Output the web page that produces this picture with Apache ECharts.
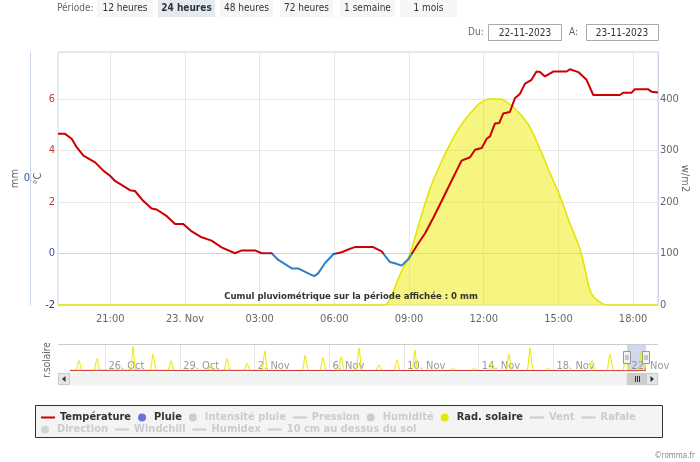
<!DOCTYPE html>
<html><head><meta charset="utf-8">
<script src="https://cdn.jsdelivr.net/npm/echarts@6/dist/echarts.min.js"></script>
<style>html,body{margin:0;padding:0;background:#fff}#c{width:700px;height:462px}</style>
</head><body><div id="c"></div>
<script>
const FONT = '"DejaVu Sans Condensed","Liberation Sans",sans-serif';

// ---------- data ----------
const periodButtons = ['12 heures','24 heures','48 heures','72 heures','1 semaine','1 mois'];
const activePeriod = '24 heures';
const dateFrom = '22-11-2023';
const dateTo = '23-11-2023';
const cumulText = 'Cumul pluviométrique sur la période affichée : 0 mm';

// hours counted from 22 Nov 2023 00:00
const xMinHour = 18.9;
const xMaxHour = 43.0;
const xTickHours = [21, 24, 27, 30, 33, 36, 39, 42];
const xTickLabels = ['21:00', '23. Nov', '03:00', '06:00', '09:00', '12:00', '15:00', '18:00'];

const tempTicks = [-2, 0, 2, 4, 6];
const tempMin = -2, tempMax = 7.83;
const solarTicks = [0, 100, 200, 300, 400];

const tempHours = [18.90,19.18,19.45,19.65,19.92,20.39,20.72,20.99,21.19,21.79,21.99,22.33,22.66,22.86,23.27,23.60,23.93,24.27,24.67,25.07,25.47,26.01,26.28,26.81,27.08,27.48,27.75,28.29,28.55,28.95,29.19,29.35,29.62,29.96,30.29,30.70,30.83,31.56,31.90,32.23,32.43,32.70,32.99,33.31,33.64,33.97,34.31,34.64,34.91,35.11,35.45,35.65,35.92,36.12,36.25,36.45,36.62,36.78,37.05,37.25,37.45,37.66,37.92,38.12,38.26,38.46,38.79,39.33,39.46,39.80,40.13,40.40,41.47,41.61,41.94,42.07,42.61,42.74,43.00];
const tempValues = [4.65,4.65,4.46,4.13,3.80,3.54,3.22,3.02,2.82,2.46,2.43,2.04,1.75,1.71,1.45,1.15,1.15,0.86,0.63,0.50,0.24,0.01,0.12,0.12,0.01,0.01,-0.25,-0.58,-0.58,-0.77,-0.88,-0.77,-0.38,-0.03,0.05,0.21,0.25,0.25,0.08,-0.33,-0.38,-0.47,-0.20,0.30,0.78,1.38,2.04,2.69,3.22,3.61,3.74,4.03,4.10,4.46,4.55,5.05,5.07,5.44,5.50,6.03,6.20,6.60,6.75,7.07,7.05,6.88,7.07,7.07,7.16,7.05,6.75,6.16,6.16,6.25,6.25,6.38,6.38,6.29,6.26];

const solarHours = [18.9,32.03,32.31,32.63,33.04,33.44,33.84,34.24,34.64,35.04,35.45,35.85,36.25,36.65,37.05,37.45,37.86,38.26,38.66,39.06,39.46,39.86,40.06,40.19,40.35,40.59,40.95,43.0];
const solarValues = [0,0,20,58,100,165,226,272,312,346,372,392,400,400,390,372,345,303,257,212,159,110,72,42,20,8,0,0];

// navigator (days counted from its own 22 Nov 00:00 tick)
const navMinDay = -29.89, navMaxDay = 0.96;
const navTickDays = [-28, -24, -20, -16, -12, -8, -4, 0];
const navTickLabels = ['26. Oct', '29. Oct', '2. Nov', '6. Nov', '10. Nov', '14. Nov', '18. Nov', '22. Nov'];
const navPeakDays = [-29.41,-28.44,-26.52,-25.44,-24.48,-22.34,-21.48,-20.41,-19.45,-17.30,-16.34,-15.37,-14.41,-13.34,-12.37,-11.41,-9.38,-8.25,-7.29,-6.38,-5.25,-4.29,-1.93,-0.97,-0.11,0.72];
const navPeakValues = [205,246,477,339,205,123,246,154,400,308,267,282,451,123,215,410,62,62,169,339,451,62,205,339,308,400];
const navTempDays = [-29.89,-27,-24,-21,-18,-15,-12,-9,-6,-3,0,0.96];
const navTempValues = [12,14,11,13,10,12,9,11,10,8,6,7];

const legendRow1 = ['Température','Pluie','Intensité pluie','Pression','Humidité','Rad. solaire','Vent','Rafale'];
const legendRow2 = ['Direction','Windchill','Humidex','10 cm au dessus du sol'];
const legendActive = ['Température','Pluie','Rad. solaire'];
const legendDotNames = ['Pluie','Intensité pluie','Humidité','Rad. solaire'];

// ---------- styles ----------
const RED = '#cc0000', BLUE = '#2f7fc8', YEL = '#e3e300';
const AXIS = '#ccd6eb', GRIDC = '#e6e6e6', LBL = '#666';
const lineIcon = 'path://M0,0 L14,0 L14,2 L0,2 Z';
const dotIcon = 'path://M0,0 m-2,0 a2,2 0 1,0 4,0 a2,2 0 1,0 -4,0';
const legendColors = {'Température': RED, 'Pluie': '#6f6fe0', 'Rad. solaire': '#e8e800'};

function legendItem(n) {
  let icon = legendDotNames.includes(n) ? 'circle' : (n === 'Direction' ? dotIcon : lineIcon);
  const it = {name: n, icon: icon};
  if (legendColors[n]) it.itemStyle = {color: legendColors[n], borderWidth: 0};
  return it;
}
const selected = {};
legendRow1.concat(legendRow2).forEach(n => selected[n] = legendActive.includes(n));

function legendCfg(names, top) {
  return {
    left: 41, top: top, orient: 'horizontal', itemGap: 7, itemWidth: 14, itemHeight: 8,
    padding: 0, inactiveColor: '#cccccc', selectedMode: true,
    textStyle: {fontFamily: FONT, fontSize: 11, fontWeight: 'bold', color: '#333'},
    data: names.map(legendItem), selected: selected
  };
}

const tempData = tempHours.map((h, i) => [h, tempValues[i]]);
const solarData = solarHours.map((h, i) => [h, solarValues[i]]);
const navSolar = [[navMinDay, 0]];
navPeakDays.forEach((d, i) => { navSolar.push([d - 0.2, 0], [d, navPeakValues[i]], [d + 0.2, 0]); });
navSolar.push([navMaxDay, 0]);
const navTemp = navTempDays.map((d, i) => [d, navTempValues[i]]);
const solarMax = (tempMax - tempMin) * 50;
const spanDays = (xMaxHour - xMinHour) / 24;
const navWindow = [navMaxDay - spanDays, navMaxDay];

const dummy = (name, type) => ({name: name, type: type || 'line', data: [], xAxisIndex: 0, yAxisIndex: 0});

// ---------- graphics (page controls) ----------
const graphics = [];
graphics.push({type: 'text', left: 57, top: 3, style: {text: 'Période:', fill: '#666', font: '10px ' + FONT}});
const btnX = [97, 158, 220, 280, 340, 400], btnW = [56, 57, 53, 53, 55, 57];
periodButtons.forEach((b, i) => {
  const act = b === activePeriod;
  graphics.push({type: 'rect', shape: {x: btnX[i], y: 0, width: btnW[i], height: 17},
    style: {fill: act ? '#e4eaf3' : '#f6f6f6'}});
  graphics.push({type: 'text', x: btnX[i] + btnW[i] / 2, y: 8,
    style: {text: b, fill: '#333', font: (act ? 'bold ' : '') + '10px ' + FONT, align: 'center', verticalAlign: 'middle'}});
});
graphics.push({type: 'text', x: 468, y: 32, style: {text: 'Du:', fill: '#666', font: '10px ' + FONT, verticalAlign: 'middle'}});
graphics.push({type: 'rect', shape: {x: 488.5, y: 24.5, width: 73, height: 16}, style: {fill: '#fff', stroke: '#a9a9a9', lineWidth: 1}});
graphics.push({type: 'text', x: 525, y: 33, style: {text: dateFrom, fill: '#333', font: '10px ' + FONT, align: 'center', verticalAlign: 'middle'}});
graphics.push({type: 'text', x: 569, y: 32, style: {text: 'A:', fill: '#666', font: '10px ' + FONT, verticalAlign: 'middle'}});
graphics.push({type: 'rect', shape: {x: 586.5, y: 24.5, width: 72, height: 16}, style: {fill: '#fff', stroke: '#a9a9a9', lineWidth: 1}});
graphics.push({type: 'text', x: 622, y: 33, style: {text: dateTo, fill: '#333', font: '10px ' + FONT, align: 'center', verticalAlign: 'middle'}});
graphics.push({type: 'text', x: 351, y: 297, z: 20, style: {text: cumulText, fill: '#333', font: 'bold 9.5px ' + FONT, align: 'center', verticalAlign: 'middle'}});
// legend frame
graphics.push({type: 'rect', z: -1, shape: {x: 35.5, y: 405.5, width: 627, height: 32}, style: {fill: '#f4f4f4', stroke: '#333', lineWidth: 1}});
graphics.push({type: 'text', x: 695, y: 456, style: {text: '©romma.fr', fill: '#888', font: '8px ' + FONT, align: 'right', verticalAlign: 'middle'}});
// navigator title
graphics.push({type: 'text', x: 47, y: 360, rotation: Math.PI / 2, style: {text: 'r.solaire', fill: '#666', font: '10px ' + FONT, align: 'center', verticalAlign: 'middle'}});
// navigator top outline & scrollbar track & buttons
graphics.push({type: 'line', shape: {x1: 58, y1: 344.5, x2: 658, y2: 344.5}, style: {stroke: '#cccccc', lineWidth: 1}});
graphics.push({type: 'rect', shape: {x: 58, y: 373, width: 600, height: 12}, style: {fill: '#f2f2f2', stroke: '#f2f2f2'}});
graphics.push({type: 'rect', shape: {x: 58.5, y: 373.5, width: 11, height: 11}, style: {fill: '#e6e6e6', stroke: '#cccccc'}});
graphics.push({type: 'polygon', shape: {points: [[65.5, 376], [65.5, 382], [62, 379]]}, style: {fill: '#333'}});
graphics.push({type: 'rect', shape: {x: 646.5, y: 373.5, width: 11, height: 11}, style: {fill: '#e6e6e6', stroke: '#cccccc'}});
graphics.push({type: 'polygon', shape: {points: [[650.5, 376], [650.5, 382], [654, 379]]}, style: {fill: '#333'}});

const option = {
  animation: false,
  textStyle: {fontFamily: FONT},
  graphic: graphics,
  grid: [
    {left: 58, right: 42, top: 52, bottom: 157, show: true, borderColor: AXIS, borderWidth: 1,
      outerBoundsMode: 'none', containLabel: false},
    {left: 70, right: 54, top: 345, height: 26, show: false, outerBoundsMode: 'none', containLabel: false}
  ],
  legend: [legendCfg(legendRow1, 412), legendCfg(legendRow2, 424)],
  visualMap: [{type: 'piecewise', show: false, seriesIndex: 0, dimension: 1,
    pieces: [{gte: -50, lt: 0, color: BLUE}, {gte: 0, lte: 50, color: RED}]}],
  xAxis: [
    {type: 'value', gridIndex: 0, min: xMinHour, max: xMaxHour,
      axisLine: {show: true, lineStyle: {color: AXIS}},
      axisTick: {show: false, customValues: xTickHours},
      axisLabel: {customValues: xTickHours, color: LBL, fontSize: 11, margin: 9,
        formatter: v => { const i = xTickHours.indexOf(v); return i >= 0 ? xTickLabels[i] : ''; }},
      splitLine: {show: true, lineStyle: {color: GRIDC}}},
    {type: 'value', gridIndex: 1, min: navMinDay, max: navMaxDay,
      axisLine: {show: false}, axisTick: {show: false, customValues: navTickDays},
      axisLabel: {customValues: navTickDays, inside: true, align: 'left', margin: -1, color: '#999', fontSize: 11,
        hideOverlap: false, showMaxLabel: true,
        formatter: v => { const i = navTickDays.indexOf(v); return i >= 0 ? ' ' + navTickLabels[i] : ''; }},
      splitLine: {show: true, lineStyle: {color: GRIDC}}}
  ],
  yAxis: [
    {type: 'value', gridIndex: 0, position: 'left', min: tempMin, max: tempMax, interval: 2,
      name: '°C', nameLocation: 'middle', nameRotate: 90, nameGap: 14.5, nameMoveOverlap: false,
      nameTextStyle: {color: '#666', fontSize: 11},
      axisLine: {show: false}, axisTick: {show: false},
      axisLabel: {showMaxLabel: false, margin: 3, fontSize: 11,
        formatter: v => { if (!tempTicks.includes(v)) return ''; const k = v > 0 ? 'p' : (v === 0 ? 'z' : 'n'); return '{' + k + '|' + v + '}'; },
        rich: {p: {color: '#c43a3a', fontSize: 11}, z: {color: '#3452a6', fontSize: 11}, n: {color: '#333366', fontSize: 11}}},
      splitLine: {show: true, lineStyle: {color: GRIDC}}},
    {type: 'value', gridIndex: 0, position: 'right', min: 0, max: solarMax, interval: 100,
      name: 'w/m2', nameLocation: 'middle', nameRotate: -90, nameGap: 21.5, nameMoveOverlap: false,
      nameTextStyle: {color: '#666', fontSize: 11},
      axisLine: {show: true, lineStyle: {color: AXIS}}, axisTick: {show: false},
      axisLabel: {showMaxLabel: false, margin: 2, color: LBL, fontSize: 11,
        formatter: v => solarTicks.includes(v) ? String(v) : ''},
      splitLine: {show: false}},
    {type: 'value', gridIndex: 0, position: 'left', offset: 28, min: -1, max: 1, interval: 1,
      name: 'mm', nameLocation: 'middle', nameRotate: 90, nameGap: 9.5, nameMoveOverlap: false,
      nameTextStyle: {color: '#666', fontSize: 11},
      axisLine: {show: true, lineStyle: {color: AXIS}}, axisTick: {show: false},
      axisLabel: {margin: 0, color: '#3452a6', fontSize: 11, formatter: v => v === 0 ? '0' : ''},
      splitLine: {show: false}},
    {type: 'value', gridIndex: 1, min: 0, max: 513, show: false}
  ],
  series: [
    {name: 'Température', type: 'line', xAxisIndex: 0, yAxisIndex: 0, data: tempData, z: 5,
      showSymbol: false, lineStyle: {width: 2}, itemStyle: {color: RED}},
    {name: 'Pluie', type: 'bar', xAxisIndex: 0, yAxisIndex: 2, data: [], itemStyle: {color: '#6f6fe0'}},
    dummy('Intensité pluie'), dummy('Pression'), dummy('Humidité'),
    {name: 'Rad. solaire', type: 'line', xAxisIndex: 0, yAxisIndex: 1, data: solarData, z: 2,
      showSymbol: false, smooth: 0.25, lineStyle: {width: 1.5, color: YEL}, itemStyle: {color: YEL},
      areaStyle: {color: 'rgba(236,236,0,0.5)', opacity: 1}},
    dummy('Vent'), dummy('Rafale'), dummy('Direction', 'scatter'), dummy('Windchill'), dummy('Humidex'), dummy('10 cm au dessus du sol'),
    {name: 'nav-solar', type: 'line', xAxisIndex: 1, yAxisIndex: 3, data: navSolar, showSymbol: false, smooth: 0.2,
      lineStyle: {width: 1, color: '#e8e800'}, itemStyle: {color: '#e8e800'}, areaStyle: {color: 'rgba(232,232,0,0.08)'},
      markArea: {silent: true, itemStyle: {color: 'rgba(102,133,194,0.3)'},
        data: [[{xAxis: navWindow[0]}, {xAxis: navWindow[1]}]]}},
    {name: 'nav-temp', type: 'line', xAxisIndex: 1, yAxisIndex: 3, data: navTemp, showSymbol: false, z: 3,
      lineStyle: {width: 1, color: '#cc3333'}, itemStyle: {color: '#cc3333'}}
  ]
};

const chart = echarts.init(document.getElementById('c'));
chart.setOption(option);

// navigator handles & scrollbar thumb, placed from the window
const xa = chart.convertToPixel({xAxisIndex: 1}, navWindow[0]);
const xb = chart.convertToPixel({xAxisIndex: 1}, navWindow[1]);
const extra = [];
[xa, xb].forEach(x => {
  const px = Math.round(x) + 0.5;
  extra.push({type: 'rect', z: 30, shape: {x: px - 4, y: 351.5, width: 7, height: 12}, style: {fill: '#f2f2f2', stroke: '#999', lineWidth: 1}});
  extra.push({type: 'line', z: 31, shape: {x1: px - 1.5, y1: 355, x2: px - 1.5, y2: 360}, style: {stroke: '#999', lineWidth: 1}});
  extra.push({type: 'line', z: 31, shape: {x1: px + 0.5, y1: 355, x2: px + 0.5, y2: 360}, style: {stroke: '#999', lineWidth: 1}});
});
extra.push({type: 'rect', z: 30, shape: {x: xa, y: 373.5, width: xb - xa, height: 11}, style: {fill: '#cccccc', stroke: '#cccccc'}});
const mid = Math.round((xa + xb) / 2) + 0.5;
[-2, 0, 2].forEach(d => extra.push({type: 'line', z: 31, shape: {x1: mid + d, y1: 376, x2: mid + d, y2: 382}, style: {stroke: '#333', lineWidth: 1}}));
chart.setOption({graphic: graphics.concat(extra)});
</script>
</body></html>
